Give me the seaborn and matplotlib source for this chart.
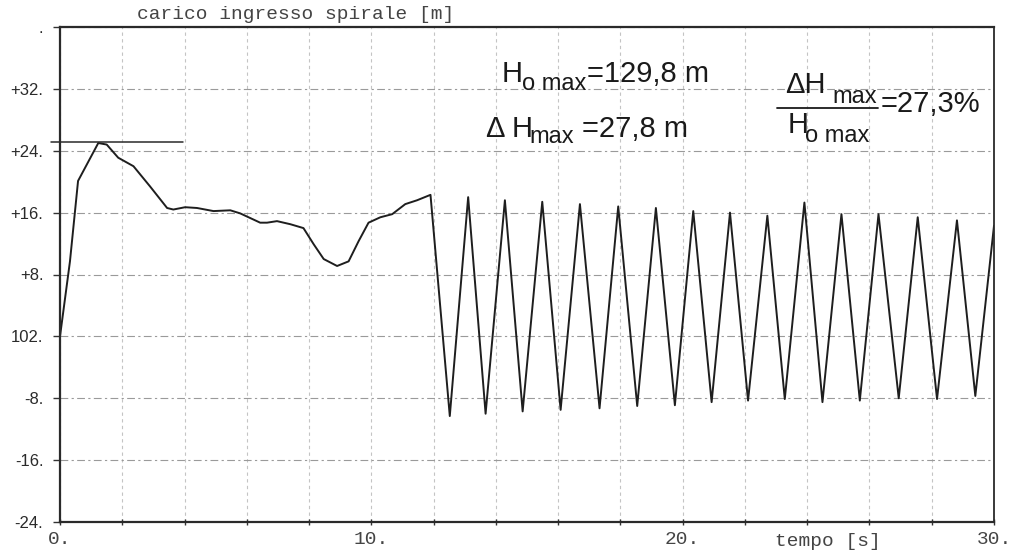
"""Carico ingresso spirale - transitorio"""

import matplotlib
matplotlib.use("Agg")
import matplotlib.pyplot as plt
import matplotlib.transforms as mtransforms
import seaborn as sns
import pandas as pd
from matplotlib.lines import Line2D

# initial transient, time [s] and head [m]
t_start = [0.0, 0.32, 0.58, 1.23, 1.50, 1.87, 2.36, 2.89, 3.44, 3.64, 4.02,
           4.40, 4.93, 5.47, 5.79, 6.43, 6.65, 6.97, 7.40, 7.82, 8.15, 8.47,
           8.90, 9.27, 9.59, 9.91, 10.29, 10.67, 11.09, 11.47, 11.90]
h_start = [0.0, 9.7, 20.1, 25.0, 24.8, 23.1, 22.0, 19.4, 16.6, 16.4, 16.7,
           16.6, 16.2, 16.3, 15.9, 14.7, 14.7, 14.9, 14.5, 14.0, 11.9, 10.0,
           9.1, 9.7, 12.3, 14.7, 15.4, 15.8, 17.1, 17.6, 18.3]

# oscillation after t = 12 s
t_peaks = [13.11, 14.29, 15.49, 16.70, 17.93, 19.14, 20.34, 21.52, 22.72,
           23.91, 25.10, 26.29, 27.55, 28.81, 30.0]
h_peaks = [18.0, 17.6, 17.4, 17.1, 16.8, 16.6, 16.2, 16.0, 15.6,
           17.3, 15.8, 15.8, 15.4, 15.0, 14.3]
t_troughs = [12.52, 13.67, 14.86, 16.08, 17.33, 18.54, 19.75, 20.93, 22.10,
             23.28, 24.49, 25.69, 26.94, 28.17, 29.40]
h_troughs = [-10.3, -10.0, -9.7, -9.5, -9.3, -9.0, -8.9, -8.5, -8.3,
             -8.1, -8.5, -8.3, -8.0, -8.1, -7.7]

# max level marker
ref_level = 25.1
ref_t = [-0.3, 3.95]

y_ticks = [-24, -16, -8, 0, 8, 16, 24, 32, 40]
y_labels = ["-24.", "-16.", "-8.", "102.", "+8.", "+16.", "+24.", "+32.", "."]
x_ticks = list(range(0, 31, 2))
x_labels = {0: "0.", 10: "10.", 20: "20.", 30: "30."}

df = pd.DataFrame({
    "tempo": t_start + t_peaks + t_troughs,
    "carico": h_start + h_peaks + h_troughs,
}).sort_values("tempo")

sns.set_style("white")
plt.rcParams["font.family"] = ["Liberation Sans", "DejaVu Sans"]

W, H = 1010, 553
fig = plt.figure(figsize=(W / 100, H / 100), dpi=100)
ax = fig.add_axes([60 / W, 1 - 522 / H, 934 / W, 495 / H])


def px(x, y):
    return x / W, 1 - y / H


sns.lineplot(data=df, x="tempo", y="carico", ax=ax, sort=False,
             estimator=None, color="#1e1e1e", lw=1.4)
ax.plot(ref_t, [ref_level, ref_level], color="#2a2a2a", lw=1.1, clip_on=False)

ax.set_xlim(0, 30)
ax.set_ylim(-24, 40)
ax.set_xticks(x_ticks)
ax.set_xticklabels([x_labels.get(t, "") for t in x_ticks],
                   family="Liberation Mono", fontsize=14, color="#444")
ax.set_yticks(y_ticks)
ax.set_yticklabels(y_labels, fontsize=12, color="#2a2a2a")
ax.set_xlabel("")
ax.set_ylabel("")

# last x label sits a little left of the frame, as in the print
last = ax.get_xticklabels()[-1]
last.set_transform(last.get_transform() +
                   mtransforms.ScaledTranslation(-9 / 100, 0, fig.dpi_scale_trans))

ax.grid(True, axis="y", color="#9a9a9a", lw=0.8, ls=(0, (7, 3, 2, 3)))
ax.grid(True, axis="x", color="#c4c4c4", lw=0.8, ls=(0, (3, 3)))
ax.tick_params(axis="y", left=True, direction="out", length=5, width=1,
               color="#333", pad=7)
ax.tick_params(axis="x", bottom=True, direction="inout", length=5, width=1,
               color="#333", pad=4)
for side in ["left", "bottom", "top", "right"]:
    ax.spines[side].set_color("#2a2a2a")
    ax.spines[side].set_linewidth(1.6)
ax.spines["right"].set_linewidth(1.3)

mono = dict(family="Liberation Mono", fontsize=14, color="#444")
fig.text(*px(137, 19), "carico ingresso spirale [m]", va="baseline", **mono)
fig.text(*px(775, 546), "tempo [s]", va="baseline", **mono)

# annotations
big = dict(fontsize=21, color="#1a1a1a", va="baseline")
sub = dict(fontsize=17, color="#1a1a1a", va="baseline")
fig.text(*px(502, 82), "H", **big)
fig.text(*px(522, 90), "o max", **sub)
fig.text(*px(587, 82), "=129,8 m", **big)

fig.text(*px(486, 137), "Δ H", **big)
fig.text(*px(529, 143), "max", **sub)
fig.text(*px(582, 137), "=27,8 m", **big)

fig.text(*px(785, 93), "ΔH", **big)
fig.text(*px(832, 103), "max", **sub)
fig.add_artist(Line2D([777 / W, 878 / W], [1 - 108 / H, 1 - 108 / H],
                      color="#1a1a1a", lw=1.3))
fig.text(*px(788, 133), "H", **big)
fig.text(*px(805, 142), "o max", **sub)
fig.text(*px(881, 112), "=27,3%", **big)

fig.savefig("out.png", dpi=100, facecolor="white")
